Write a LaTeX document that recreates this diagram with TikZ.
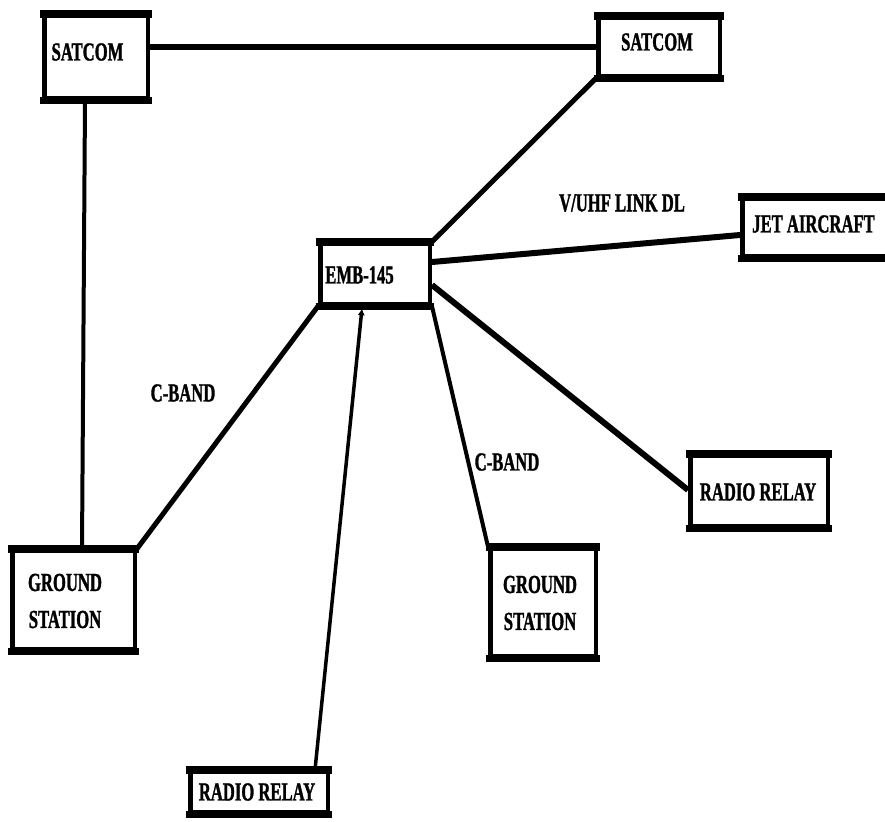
\documentclass[tikz,border=0pt]{standalone}
\usepackage{fontspec}
\newfontfamily\dfont{Liberation Serif}[FakeStretch=0.64, FakeBold=1.2]
\usetikzlibrary{arrows.meta}
\tikzset{
  box/.style={draw=black, fill=white, line width=4.5pt, inner sep=0pt},
  txt/.style={font=\fontsize{26}{37}\selectfont\dfont\bfseries, inner sep=0pt, align=center},
  link/.style={draw=black, line width=#1},
  link/.default=5pt
}
\newcommand{\bars}[1]{%
  \draw[line width=8pt] ([xshift=-2.25pt]#1.north west) -- ([xshift=2.25pt]#1.north east);
  \draw[line width=7pt] ([xshift=-2.25pt]#1.south west) -- ([xshift=2.25pt]#1.south east);}
\begin{document}
\begin{tikzpicture}[x=1pt,y=-1pt]
\useasboundingbox[fill=white] (0,0) rectangle (885,821);
% boxes
\node[box, minimum width=103.5pt, minimum height=82pt] (sat1) at (96,57) {};
\node[box, minimum width=121.5pt, minimum height=58pt] (sat2) at (659,47) {};
\node[box, minimum width=109.5pt, minimum height=60pt] (emb) at (375,274) {};
\node[box, minimum width=145.5pt, minimum height=57pt] (jet) at (815,227.5) {};
\node[box, minimum width=137.5pt, minimum height=70pt] (rr1) at (759,491) {};
\node[box, minimum width=122.5pt, minimum height=98pt] (gs1) at (73.5,600) {};
\node[box, minimum width=105.5pt, minimum height=107pt] (gs2) at (543,602.5) {};
\node[box, minimum width=137.5pt, minimum height=40pt] (rr2) at (259,792) {};
\foreach \n in {sat1,sat2,emb,jet,rr1,gs1,gs2,rr2} {\bars{\n}}
% texts
\node[txt] (sat1t) at (87.5,52) {SATCOM};
\node[txt] (sat2t) at (657,42) {SATCOM};
\node[txt] (embt) at (359.5,275) {EMB-145};
\node[txt] (jett) at (813.5,224) {JET AIRCRAFT};
\node[txt] (rr1t) at (758,492) {RADIO RELAY};
\node[txt] (gs1t) at (65,601) {GROUND\\STATION};
\node[txt] (gs2t) at (540,603) {GROUND\\STATION};
\node[txt] (rr2t) at (257,792) {RADIO RELAY};
% connectors
\draw[link=6pt] ([yshift=10pt]sat1.east) -- (sat2.west);
\draw[link=4pt] ([xshift=-11pt]sat1.south) -- ([xshift=8.5pt]gs1.north);
\draw[link=5pt] (sat2.south west) -- (emb.north east);
\draw[link=6pt] ([yshift=12pt]emb.east) -- ([yshift=-7.5pt]jet.west);
\draw[link=6pt] ([yshift=-11pt]emb.east) -- ([yshift=1pt]rr1.west);
\draw[link=4pt] (emb.south east) -- (gs2.north west);
\draw[link=5pt] (emb.south west) -- (gs1.north east);
\draw[link=3.5pt, -{Latex[length=7pt,width=7pt]}] ([xshift=56pt]rr2.north) -- ([xshift=-13pt,yshift=-2pt]emb.south);
% labels
\node[txt] (l1) at (622,203) {V/UHF LINK DL};
\node[txt] (l2) at (183,393) {C-BAND};
\node[txt] (l3) at (507,462) {C-BAND};
\end{tikzpicture}
\end{document}
